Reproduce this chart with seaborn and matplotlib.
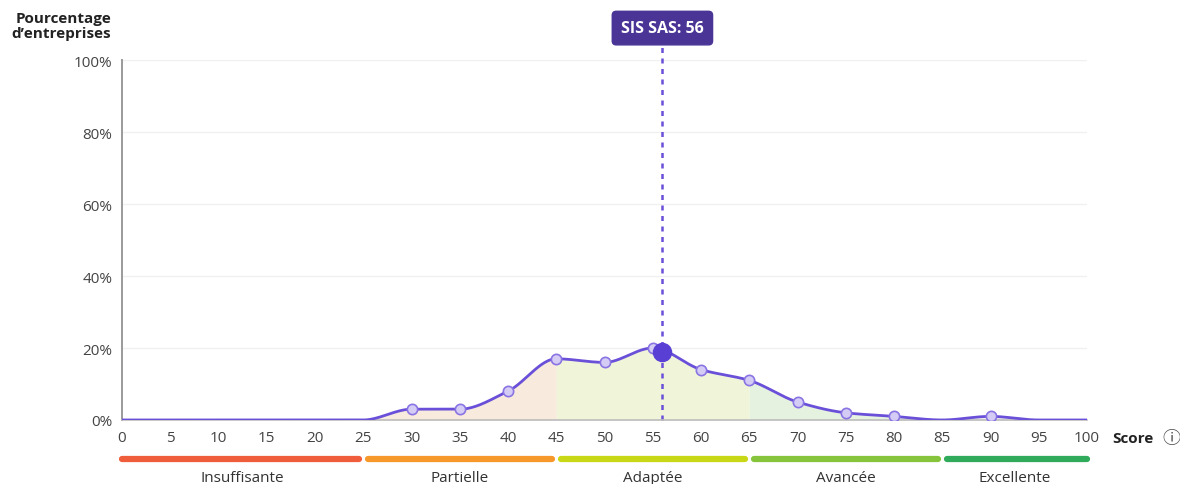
import numpy as np
import pandas as pd
import matplotlib
matplotlib.use("Agg")
import matplotlib.pyplot as plt
import seaborn as sns

# data
scores = [0, 5, 10, 15, 20, 25, 30, 35, 40, 45, 50, 55, 60, 65, 70, 75, 80, 85, 90, 95, 100]
pct = [0, 0, 0, 0, 0, 0, 3, 3, 8, 17, 16, 20, 14, 11, 5, 2, 1, 0, 1, 0, 0]
company = "SIS SAS"
company_score = 56
company_pct = 18.8

levels = ["Insuffisante", "Partielle", "Adaptée", "Avancée", "Excellente"]
level_bounds = [(0, 25), (25, 45), (45, 65), (65, 85), (85, 100)]
level_colors = ["#ef5d3b", "#f7982a", "#c9d816", "#86c43b", "#2fab5b"]
fill_colors = ["#ffffff", "#f8ebdd", "#f0f5da", "#e6f2e0", "#edf1ed"]

purple = "#6a4fd9"
dark_purple = "#4a3597"


def monotone(x, y, xs):
    # monotone cubic (Fritsch-Carlson), like d3 curveMonotoneX
    x = np.asarray(x, float)
    y = np.asarray(y, float)
    h = np.diff(x)
    d = np.diff(y) / h
    n = len(x)
    m = np.zeros(n)
    m[0], m[-1] = d[0], d[-1]
    for k in range(1, n - 1):
        if d[k - 1] * d[k] <= 0:
            m[k] = 0
        else:
            w1 = 2 * h[k] + h[k - 1]
            w2 = h[k] + 2 * h[k - 1]
            m[k] = (w1 + w2) / (w1 / d[k - 1] + w2 / d[k])
    idx = np.clip(np.searchsorted(x, xs) - 1, 0, n - 2)
    t = (xs - x[idx]) / h[idx]
    h00 = 2 * t**3 - 3 * t**2 + 1
    h10 = t**3 - 2 * t**2 + t
    h01 = -2 * t**3 + 3 * t**2
    h11 = t**3 - t**2
    return h00 * y[idx] + h10 * h[idx] * m[idx] + h01 * y[idx + 1] + h11 * h[idx] * m[idx + 1]


sns.set_theme(style="white")
plt.rcParams["font.family"] = ["Open Sans", "DejaVu Sans"]

fig = plt.figure(figsize=(11.8, 4.85), dpi=100)
ax = fig.add_axes([0.1034, 0.132, 0.8178, 0.742])

xs = np.linspace(0, 100, 1001)
ys = monotone(scores, pct, xs)
curve = pd.DataFrame({"score": xs, "pct": ys})

for (lo, hi), fc in zip(level_bounds, fill_colors):
    sel = (xs >= lo) & (xs <= hi)
    ax.fill_between(xs[sel], 0, ys[sel], color=fc, lw=0, zorder=1)

for v in [20, 40, 60, 80, 100]:
    ax.axhline(v, color="#f0f0f0", lw=1, zorder=0)

sns.lineplot(data=curve, x="score", y="pct", color=purple, lw=2, ax=ax, zorder=3)

pts = pd.DataFrame({"score": scores, "pct": pct})
pts = pts[pts["pct"] > 0]
sns.scatterplot(data=pts, x="score", y="pct", s=55, color="#d4ccf5",
                edgecolor="#8a74e3", linewidth=1.2, ax=ax, zorder=4)

# company marker + dotted line + label
ax.plot([company_score, company_score], [0, 104.5], ls=(0, (2, 2.2)), color=purple,
        lw=1.8, clip_on=False, zorder=2)
ax.scatter([company_score], [company_pct], s=170, color="#5a3fd4", zorder=5)
ax.text(company_score, 108.9, f"{company}: {company_score}", ha="center", va="center",
        color="white", fontsize=11.5, fontweight="bold", clip_on=False,
        bbox=dict(boxstyle="round,pad=0.55,rounding_size=0.25", fc=dark_purple, ec=dark_purple))

ax.set_xlim(0, 100)
ax.set_ylim(0, 100)
ax.set_xticks(scores)
ax.set_xticklabels([str(s) for s in scores])
ax.set_yticks([0, 20, 40, 60, 80, 100])
ax.set_yticklabels([f"{v}%" for v in [0, 20, 40, 60, 80, 100]])
ax.tick_params(axis="both", length=0, labelsize=11, colors="#444444")
ax.tick_params(axis="x", pad=7)
ax.tick_params(axis="y", pad=7)
ax.set_xlabel("")
ax.set_ylabel("")

for side in ["top", "right"]:
    ax.spines[side].set_visible(False)
ax.spines["left"].set_color("#9a9a9a")
ax.spines["left"].set_linewidth(1.4)
ax.spines["bottom"].set_color("#bdbdbd")
ax.spines["bottom"].set_linewidth(1.2)

# level bands under the axis
for name, (lo, hi), c in zip(levels, level_bounds, level_colors):
    a = lo + 0.45 if lo > 0 else lo
    b = hi - 0.45 if hi < 100 else hi
    ax.plot([a, b], [-10.8, -10.8], color=c, lw=4.5, solid_capstyle="round",
            clip_on=False, zorder=3)
    ax.text((lo + hi) / 2, -16.0, name, ha="center", va="center", fontsize=11,
            color="#333333", clip_on=False)

fig.text(0.094, 0.975, "Pourcentage\nd\u2019entreprises", ha="right", va="top",
         fontsize=11, fontweight="bold", color="#222222", linespacing=1.1)
ax.text(102.6, -4.9, "Score", ha="left", va="center", fontsize=11, fontweight="bold",
        color="#222222", clip_on=False)
ax.text(108.7, -4.9, "\u24d8", ha="center", va="center", fontsize=13, color="#444444",
        clip_on=False, family=["Noto Sans CJK JP", "DejaVu Sans"])

fig.savefig("out.png", dpi=100)
